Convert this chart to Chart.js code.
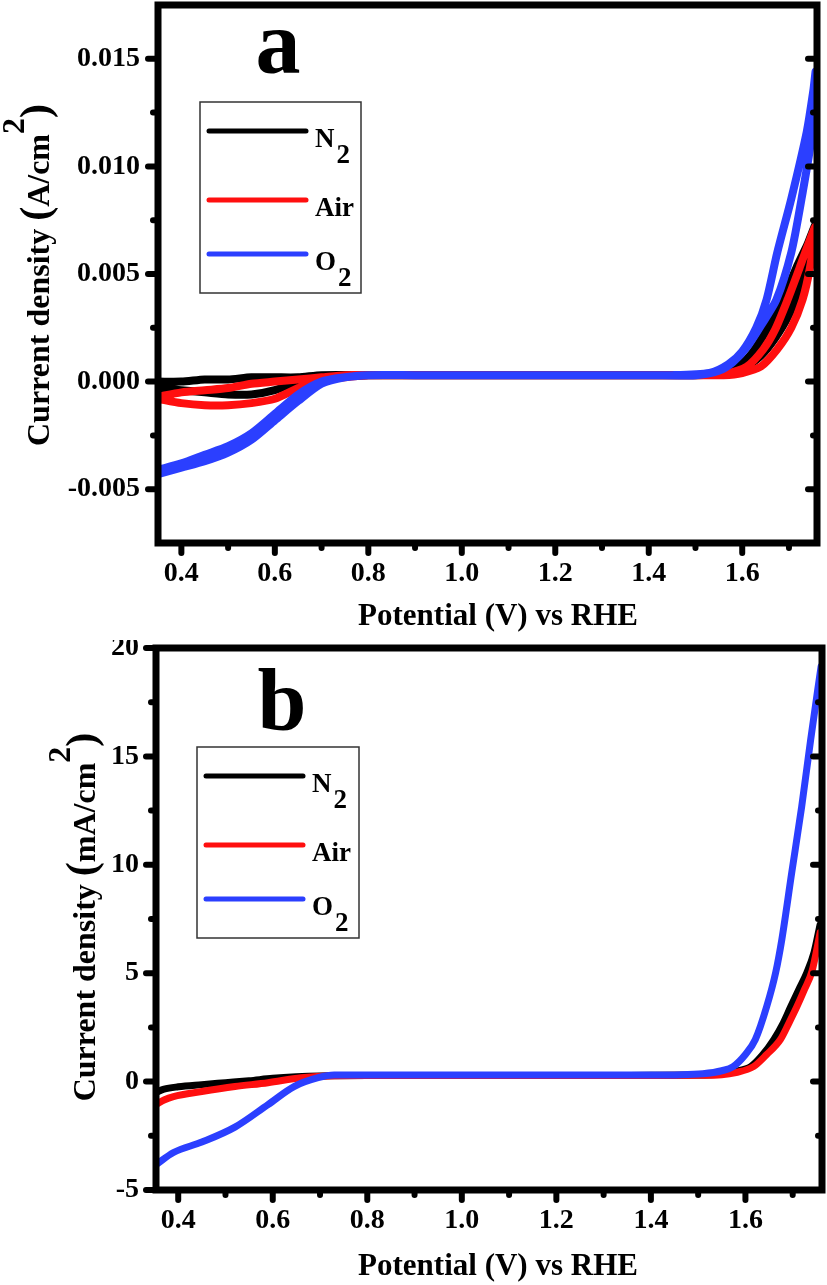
<!DOCTYPE html>
<html lang="en">
<head>
  <meta charset="UTF-8" />
  <title>Current density vs potential</title>
  <script src="https://cdn.jsdelivr.net/npm/chart.js"></script>
  <style>
    body { margin: 0; background: #fff; }
    canvas { display: block; }
  </style>
</head>
<body>
  <canvas id="chartA" width="827" height="640"></canvas>
  <canvas id="chartB" width="827" height="645"></canvas>

  <script>
    // ---------- data ----------
    const seriesNames = ['N2', 'Air', 'O2'];
    const seriesColors = ['#000000', '#ff0f0f', '#2b3fff'];

    // panel a: cyclic voltammograms (A/cm2), anodic sweep then back
    const cvN2Pot = [0.35, 0.40, 0.45, 0.50, 0.55, 0.60, 0.65, 0.70, 0.80, 0.90, 1.00, 1.10, 1.20, 1.30, 1.40, 1.50,
      1.56, 1.60, 1.64, 1.67, 1.70, 1.725, 1.745, 1.757,
      1.74, 1.716, 1.686, 1.655, 1.62, 1.59, 1.55, 1.50, 1.40, 1.30, 1.20, 1.10, 1.00, 0.90, 0.80,
      0.70, 0.65, 0.60, 0.55, 0.50, 0.45, 0.40, 0.35];
    const cvN2Cur = [0.0000, 0.0000, 0.0001, 0.0001, 0.0002, 0.0002, 0.0002, 0.0003, 0.0003, 0.0003, 0.0003, 0.0003, 0.0003, 0.0003, 0.0003, 0.0003,
      0.0004, 0.0006, 0.0012, 0.0020, 0.0031, 0.0045, 0.0060, 0.0073,
      0.0064, 0.0053, 0.0038, 0.0025, 0.0013, 0.0007, 0.0004, 0.0003, 0.0003, 0.0003, 0.0003, 0.0003, 0.0003, 0.0003, 0.0003,
      0.0002, 0.0000, -0.0004, -0.0006, -0.0006, -0.0005, -0.0004, -0.0003];

    const cvAirPot = [0.35, 0.40, 0.45, 0.50, 0.55, 0.60, 0.65, 0.70, 0.75, 0.80, 0.90, 1.00, 1.10, 1.20, 1.30, 1.40, 1.50, 1.56,
      1.60, 1.64, 1.675, 1.705, 1.729, 1.745, 1.757,
      1.74, 1.723, 1.697, 1.67, 1.645, 1.61, 1.57, 1.50, 1.40, 1.30, 1.20, 1.10, 1.00, 0.90, 0.80,
      0.75, 0.70, 0.65, 0.60, 0.55, 0.50, 0.45, 0.40, 0.35];
    const cvAirCur = [-0.0007, -0.0005, -0.0004, -0.0003, -0.0001, 0.0000, 0.0001, 0.0002, 0.0003, 0.0003, 0.0003, 0.0003, 0.0003, 0.0003, 0.0003, 0.0003, 0.0003, 0.0003,
      0.0004, 0.0007, 0.0015, 0.0025, 0.0038, 0.0053, 0.0072,
      0.0063, 0.0053, 0.0038, 0.0024, 0.0015, 0.0007, 0.0004, 0.0003, 0.0003, 0.0003, 0.0003, 0.0003, 0.0003, 0.0003, 0.0003,
      0.0002, 0.0001, -0.0003, -0.0008, -0.0010, -0.0011, -0.0011, -0.0010, -0.0008];

    const cvO2Pot = [0.35, 0.40, 0.45, 0.50, 0.55, 0.60, 0.65, 0.70, 0.75, 0.80, 0.90, 1.00, 1.10, 1.20, 1.30, 1.40, 1.50,
      1.55, 1.58, 1.61, 1.64, 1.673, 1.705, 1.727, 1.75, 1.757,
      1.752, 1.738, 1.705, 1.675, 1.652, 1.63, 1.60, 1.57, 1.53, 1.45, 1.30, 1.20, 1.10, 1.00, 0.90, 0.80,
      0.75, 0.70, 0.65, 0.60, 0.55, 0.50, 0.45, 0.40, 0.35];
    const cvO2Cur = [-0.0041, -0.0038, -0.0034, -0.0030, -0.0024, -0.0015, -0.0006, 0.0000, 0.0002, 0.0003, 0.0003, 0.0003, 0.0003, 0.0003, 0.0003, 0.0003, 0.0003,
      0.0005, 0.0009, 0.0016, 0.0026, 0.0038, 0.0060, 0.0085, 0.0116, 0.0144,
      0.0135, 0.0116, 0.0085, 0.0060, 0.0038, 0.0025, 0.0014, 0.0008, 0.0004, 0.0003, 0.0003, 0.0003, 0.0003, 0.0003, 0.0003, 0.0003,
      0.0002, -0.0001, -0.0009, -0.0018, -0.0027, -0.0033, -0.0037, -0.0040, -0.0043];

    // panel b: linear sweeps (mA/cm2)
    const lsvN2Pot = [0.353, 0.37, 0.40, 0.45, 0.50, 0.55, 0.60, 0.65, 0.70, 0.80, 0.90, 1.00, 1.10, 1.20, 1.30, 1.40, 1.50,
      1.55, 1.58, 1.611, 1.635, 1.66, 1.68, 1.696, 1.713, 1.73, 1.745, 1.758];
    const lsvN2Cur = [-0.50, -0.35, -0.24, -0.14, -0.05, 0.04, 0.15, 0.22, 0.26, 0.28, 0.28, 0.28, 0.28, 0.28, 0.28, 0.29, 0.30,
      0.36, 0.48, 0.69, 1.20, 1.94, 2.70, 3.46, 4.25, 5.03, 5.95, 7.25];

    const lsvAirPot = [0.353, 0.37, 0.39, 0.45, 0.52, 0.59, 0.66, 0.73, 0.80, 0.90, 1.00, 1.10, 1.20, 1.30, 1.40, 1.50,
      1.55, 1.58, 1.617, 1.645, 1.674, 1.692, 1.709, 1.725, 1.741, 1.758];
    const lsvAirCur = [-1.06, -0.85, -0.69, -0.46, -0.23, -0.05, 0.18, 0.27, 0.28, 0.28, 0.28, 0.28, 0.28, 0.28, 0.28, 0.29,
      0.32, 0.42, 0.69, 1.25, 1.94, 2.70, 3.46, 4.25, 5.10, 6.87];

    const lsvO2Pot = [0.353, 0.39, 0.45, 0.52, 0.59, 0.645, 0.696, 0.73, 0.80, 0.90, 1.00, 1.10, 1.20, 1.30, 1.40, 1.45,
      1.51, 1.55, 1.574, 1.60, 1.621, 1.645, 1.664, 1.677, 1.698, 1.719, 1.738, 1.76];
    const lsvO2Cur = [-3.83, -3.27, -2.79, -2.10, -1.06, -0.23, 0.18, 0.30, 0.30, 0.30, 0.30, 0.30, 0.30, 0.30, 0.30, 0.31,
      0.36, 0.50, 0.69, 1.25, 1.94, 3.46, 5.03, 6.55, 9.64, 12.68, 15.77, 19.14];

    // ticks
    const xMajor = [0.4, 0.6, 0.8, 1.0, 1.2, 1.4, 1.6];
    const xMinor = [0.5, 0.7, 0.9, 1.1, 1.3, 1.5, 1.7];
    const yMajorA = [-0.005, 0, 0.005, 0.010, 0.015];
    const yMinorA = [-0.0025, 0.0025, 0.0075, 0.0125];
    const yMajorB = [-5, 0, 5, 10, 15, 20];
    const yMinorB = [-2.5, 2.5, 7.5, 12.5, 17.5];

    // ---------- drawing ----------
    const SERIF = '"Liberation Serif", "Times New Roman", serif';
    const bold = size => 'bold ' + size + 'px ' + SERIF;

    // text made of pieces of different size / raise, optionally rotated
    function drawParts(ctx, parts, x, y, rotated) {
      ctx.save();
      ctx.translate(x, y);
      if (rotated) ctx.rotate(-Math.PI / 2);
      ctx.textBaseline = 'alphabetic';
      ctx.textAlign = 'left';
      let total = 0;
      parts.forEach(p => { ctx.font = bold(p.s); p.w = ctx.measureText(p.t).width; total += p.w; });
      let pos = -total / 2;
      parts.forEach(p => {
        ctx.font = bold(p.s);
        ctx.fillText(p.t, pos, -(p.rise || 0));
        pos += p.w;
      });
      ctx.restore();
    }

    const framePlugin = {
      id: 'frame',
      afterDatasetsDraw(chart, args, o) {
        const ctx = chart.ctx;
        const { left, right, top, bottom } = chart.chartArea;
        const xs = chart.scales.x, ys = chart.scales.y;
        ctx.save();
        ctx.strokeStyle = '#000';
        ctx.fillStyle = '#000';

        // box
        ctx.lineWidth = 7;
        ctx.lineJoin = 'miter';
        ctx.strokeRect(left, top, right - left, bottom - top);

        // ticks: out on left/bottom, in on the right
        ctx.lineWidth = 6;
        ctx.lineCap = 'round';
        const seg = (x1, y1, x2, y2) => { ctx.beginPath(); ctx.moveTo(x1, y1); ctx.lineTo(x2, y2); ctx.stroke(); };
        xMajor.forEach(v => { const p = xs.getPixelForValue(v); seg(p, bottom, p, bottom + 10); });
        xMinor.forEach(v => { const p = xs.getPixelForValue(v); seg(p, bottom, p, bottom + 5); });
        o.yMajor.forEach(v => { const p = ys.getPixelForValue(v); seg(left, p, left - 10, p); seg(right, p, right - 9, p); });
        o.yMinor.forEach(v => { const p = ys.getPixelForValue(v); seg(left, p, left - 5, p); seg(right, p, right - 4, p); });

        // panel letter
        ctx.font = bold(o.letterSize);
        ctx.textAlign = 'center';
        ctx.textBaseline = 'alphabetic';
        ctx.fillText(o.letter, o.letterX, o.letterY);

        // legend
        const L = o.legend;
        ctx.lineWidth = 1.5;
        ctx.lineCap = 'butt';
        ctx.strokeStyle = '#333';
        ctx.strokeRect(L.x, L.y, L.w, L.h);
        const rows = [29, 98, 152];
        const labels = [['N', '2'], ['Air', ''], ['O', '2']];
        chart.data.datasets.forEach((ds, i) => {
          const ly = L.y + rows[i];
          ctx.strokeStyle = ds.borderColor;
          ctx.lineWidth = 5;
          ctx.lineCap = 'round';
          seg(L.x + 9, ly, L.x + 106, ly);
          ctx.font = bold(27);
          ctx.textAlign = 'left';
          const tx = L.x + 115;
          ctx.fillText(labels[i][0], tx, ly + 16);
          if (labels[i][1]) {
            const w = ctx.measureText(labels[i][0]).width;
            ctx.fillText(labels[i][1], tx + w + 2, ly + 32);
          }
        });

        // axis titles
        drawParts(ctx, [{ t: 'Potential (V) vs RHE', s: 31 }], 498, o.xTitleY, false);
        drawParts(ctx, o.yTitle, o.yTitleX, o.yTitleY, true);
        ctx.restore();
      }
    };

    const tickFont = { family: 'Liberation Serif', size: 28, weight: 'bold' };

    function makeChart(id, cfg) {
      return new Chart(document.getElementById(id), {
        type: 'scatter',
        data: {
          datasets: cfg.series.map((s, i) => ({
            label: seriesNames[i],
            data: s[0].map((x, k) => ({ x: x, y: s[1][k] })),
            showLine: true,
            borderColor: seriesColors[i],
            backgroundColor: seriesColors[i],
            borderWidth: cfg.lineWidth,
            borderCapStyle: 'round',
            borderJoinStyle: 'round',
            pointRadius: 0,
            tension: cfg.tension,
            cubicInterpolationMode: cfg.monotone ? 'monotone' : 'default',
            order: 2 - i
          }))
        },
        options: {
          responsive: false,
          animation: false,
          layout: { padding: cfg.padding },
          plugins: { legend: { display: false }, tooltip: { enabled: false }, frame: cfg.frame },
          scales: {
            x: {
              type: 'linear', min: cfg.xMin, max: cfg.xMax,
              grid: { display: false, drawTicks: false }, border: { display: false },
              afterBuildTicks: s => { s.ticks = xMajor.map(v => ({ value: v })); },
              afterFit: s => { s.height = cfg.xHeight; s.paddingLeft = 0; s.paddingRight = 0; },
              ticks: { font: tickFont, color: '#000', padding: 14, autoSkip: false, maxRotation: 0,
                callback: v => Number(v).toFixed(1) }
            },
            y: {
              type: 'linear', min: cfg.yMin, max: cfg.yMax,
              grid: { display: false, drawTicks: false }, border: { display: false },
              afterBuildTicks: s => { s.ticks = cfg.frame.yMajor.map(v => ({ value: v })); },
              afterFit: s => { s.width = cfg.yWidth; s.paddingTop = 0; s.paddingBottom = 0; },
              ticks: { font: tickFont, color: '#000', padding: cfg.yPad, autoSkip: false,
                callback: cfg.yFormat }
            }
          }
        },
        plugins: [framePlugin]
      });
    }

    makeChart('chartA', {
      series: [[cvN2Pot, cvN2Cur], [cvAirPot, cvAirCur], [cvO2Pot, cvO2Cur]],
      lineWidth: 8, tension: 0.25, monotone: false,
      padding: { left: 0, top: 5, right: 10, bottom: 0 },
      xMin: 0.35, xMax: 1.76, yMin: -0.0075, yMax: 0.0175,
      xHeight: 97, yWidth: 158, yPad: 18,
      yFormat: v => Number(v).toFixed(3),
      frame: {
        yMajor: yMajorA, yMinor: yMinorA,
        letter: 'a', letterX: 278, letterY: 73, letterSize: 90,
        legend: { x: 200, y: 102, w: 161, h: 191 },
        xTitleY: 625, yTitleX: 49, yTitleY: 275,
        yTitle: [{ t: 'Current density ', s: 32 }, { t: '(', s: 42 }, { t: 'A/cm', s: 32 },
                 { t: '2', s: 32, rise: 25 }, { t: ')', s: 42 }]
      }
    });

    makeChart('chartB', {
      series: [[lsvN2Pot, lsvN2Cur], [lsvAirPot, lsvAirCur], [lsvO2Pot, lsvO2Cur]],
      lineWidth: 7, tension: 0.4, monotone: true,
      padding: { left: 0, top: 8, right: 5, bottom: 0 },
      xMin: 0.353, xMax: 1.762, yMin: -5, yMax: 20,
      xHeight: 95, yWidth: 156, yPad: 17,
      yFormat: v => String(v),
      frame: {
        yMajor: yMajorB, yMinor: yMinorB,
        letter: 'b', letterX: 282, letterY: 90, letterSize: 88,
        legend: { x: 197, y: 107, w: 162, h: 191 },
        xTitleY: 635, yTitleX: 95, yTitleY: 277,
        yTitle: [{ t: 'Current density ', s: 32 }, { t: '(', s: 42 }, { t: 'mA/cm', s: 32 },
                 { t: '2', s: 32, rise: 25 }, { t: ')', s: 42 }]
      }
    });
  </script>
</body>
</html>
